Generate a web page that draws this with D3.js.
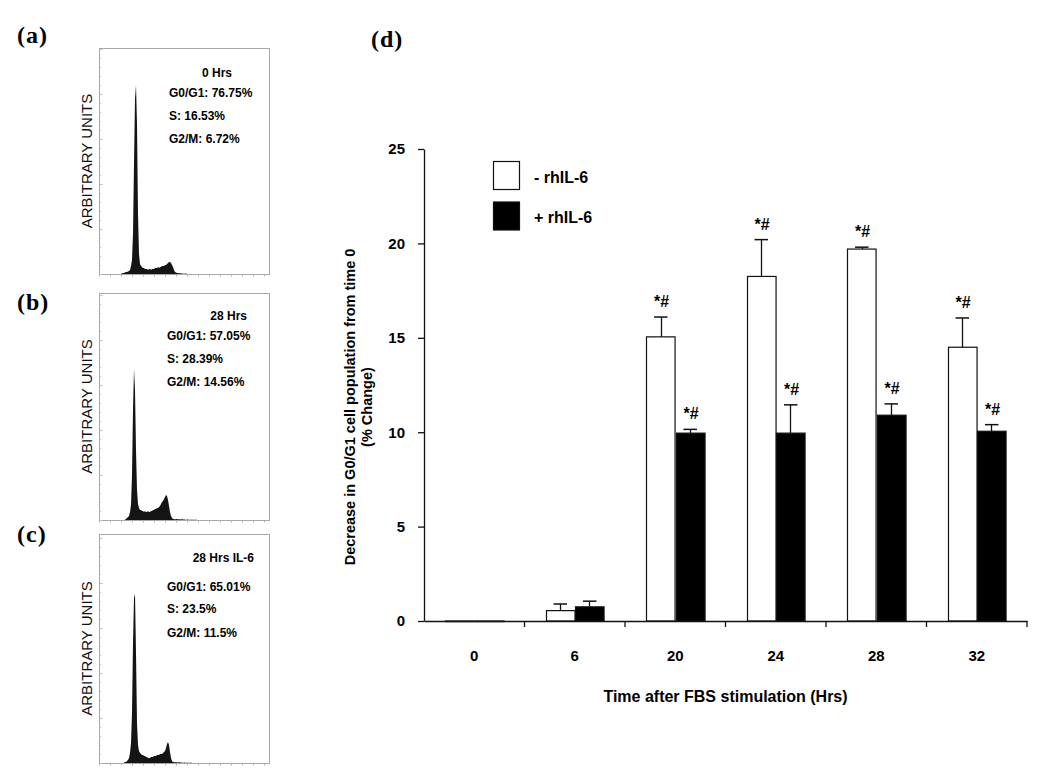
<!DOCTYPE html>
<html>
<head>
<meta charset="utf-8">
<script src="https://cdn.jsdelivr.net/npm/d3@7"></script>
<style>
  html, body { margin: 0; padding: 0; background: #fff; }
  svg { display: block; }
</style>
</head>
<body>
<svg id="chart" width="1050" height="784"></svg>
<script>
// ---------------- DATA ----------------
// Flow cytometry panels (a)-(c)
const panelLabels = ["(a)", "(b)", "(c)"];
const panelTimes = ["0 Hrs", "28 Hrs", "28 Hrs IL-6"];
const g0g1Text = ["G0/G1: 76.75%", "G0/G1: 57.05%", "G0/G1: 65.01%"];
const sText = ["S: 16.53%", "S: 28.39%", "S: 23.5%"];
const g2mText = ["G2/M: 6.72%", "G2/M: 14.56%", "G2/M: 11.5%"];
const yUnitsLabel = "ARBITRARY UNITS";

// DNA-content histograms: counts per channel, starting at the given channel
const histAStart = 22;
const histA = [0.5,0.5,1,1,1.5,2,2,2.5,3,4,8,14,40,110,175,189,150,60,20,10,8,7,6,6,5,5,5,4,5,5,4,5,5,5,6,6,6,7,6,7,7,8,8,8,9,9,10,11,12,12,11,9,7,4,2,1.5,1,1,0.5,1,0.5,0.5,0.5,0,0.5,0.5,0,0];
const histBStart = 26;
const histB = [0.5,1,2,3,4,8,15,45,110,151,130,70,30,16,12,10,10,9,9,8,9,8,8,9,8,8,9,9,10,10,11,11,12,12,13,14,16,18,19,21,23,25,24,20,14,8,4,2,1,1,0.5,1,1,0.5,1,0.5,0.5,1,0.5,0.5,0.5,0,0.5,0.5,0,0.5,0,0.5,0,0.5,0,0.5,0,0,0];
const histCStart = 25;
const histC = [0.5,1,1,2,3,5,10,20,50,120,165,169,110,40,18,12,10,9,8,8,7,7,6,6,5,5,5,6,6,6,7,7,7,8,8,8,9,9,9,10,11,12,15,19,21,18,11,5,2,1,1,0.5,1,0.5,0.5,1,0.5,0.5,0.5,0,0.5,0.5,0,0.5,0,0.5,0,0.5,0,0,0];

// Bar chart panel (d)
const panelDLabel = "(d)";
const timepoints = ["0", "6", "20", "24", "28", "32"];
const seriesNames = ["- rhIL-6", "+ rhIL-6"];
const minusIL6 = [0, 0.55, 15.05, 18.25, 19.7, 14.5];
const minusIL6Err = [0, 0.35, 1.05, 1.95, 0.1, 1.55];
const plusIL6 = [0, 0.75, 9.95, 9.95, 10.9, 10.05];
const plusIL6Err = [0, 0.3, 0.2, 1.5, 0.6, 0.35];
const minusSig = ["", "", "*#", "*#", "*#", "*#"];
const plusSig = ["", "", "*#", "*#", "*#", "*#"];
const yTicks = [0, 5, 10, 15, 20, 25];
const yTitle1 = "Decrease in G0/G1 cell population from time 0";
const yTitle2 = "(% Change)";
const xTitle = "Time after FBS stimulation (Hrs)";

// ---------------- LAYOUT ----------------
const svg = d3.select("#chart");
const SANS = "'Liberation Sans', Arial, Helvetica, sans-serif";
const SERIF = "'Liberation Serif', 'Times New Roman', Times, serif";

const histData = [
  {start: histAStart, counts: histA},
  {start: histBStart, counts: histB},
  {start: histCStart, counts: histC}
];
const boxes = [
  {x0: 99, x1: 269, y0: 48, y1: 274, labelY: 43, titleRight: 232, statX: 169, tY: 29, sY: [49, 72, 95]},
  {x0: 99, x1: 269, y0: 293, y1: 520, labelY: 310, titleRight: 247, statX: 167, tY: 27, sY: [47, 70, 93]},
  {x0: 99, x1: 269, y0: 534, y1: 763, labelY: 542, titleRight: 254, statX: 167, tY: 28, sY: [57, 79, 103]}
];

boxes.forEach((b, i) => {
  const g = svg.append("g");
  const xs = d3.scaleLinear().domain([0, 170]).range([b.x0, b.x1]);
  const ys = d3.scaleLinear().domain([0, 226]).range([b.y1, b.y1 - 226]);

  // box
  g.append("rect").attr("x", b.x0 + 0.5).attr("y", b.y0 + 0.5)
    .attr("width", b.x1 - b.x0).attr("height", b.y1 - b.y0)
    .attr("fill", "none").attr("stroke", "#a8a8a8").attr("stroke-width", 1);

  // faint minor ticks (left edge and bottom)
  const leftTicks = d3.range(0, b.y1 - b.y0, 9);
  g.selectAll(".lt").data(leftTicks).enter().append("line")
    .attr("x1", b.x0 + 0.5).attr("x2", (d, k) => b.x0 + (k % 5 === 0 ? 3.5 : 2))
    .attr("y1", d => b.y1 - d + 0.5).attr("y2", d => b.y1 - d + 0.5)
    .attr("stroke", "#c0c0c0").attr("stroke-width", 1);
  const botTicks = d3.range(0, 171, 11);
  g.selectAll(".bt").data(botTicks).enter().append("line")
    .attr("x1", d => xs(d) + 0.5).attr("x2", d => xs(d) + 0.5)
    .attr("y1", b.y1 + 0.5).attr("y2", b.y1 + 2.5)
    .attr("stroke", "#b0b0b0").attr("stroke-width", 1);

  // histogram
  const h = histData[i];
  const pts = h.counts.map((c, k) => ({ch: h.start + k, c: c}));
  const area = d3.area()
    .x(d => xs(d.ch))
    .y0(ys(0))
    .y1(d => ys(d.c))
    .curve(d3.curveLinear);
  g.append("path").datum(pts).attr("d", area).attr("fill", "#141414");

  // panel label
  g.append("text").attr("x", 17).attr("y", b.labelY)
    .style("font-family", SERIF).style("font-weight", "bold").style("font-size", "24px")
    .style("letter-spacing", "1px")
    .text(panelLabels[i]);

  // y label
  g.append("text")
    .attr("transform", `translate(92, ${(b.y0 + b.y1) / 2}) rotate(-90)`)
    .attr("text-anchor", "middle")
    .style("font-family", SANS).style("font-size", "15px").attr("fill", "#111")
    .text(yUnitsLabel);

  // texts
  g.append("text").attr("x", b.titleRight).attr("y", b.y0 + b.tY)
    .attr("text-anchor", "end")
    .style("font-family", SANS).style("font-weight", "bold").style("font-size", "12px")
    .text(panelTimes[i]);
  [g0g1Text[i], sText[i], g2mText[i]].forEach((t, k) => {
    g.append("text").attr("x", b.statX).attr("y", b.y0 + b.sY[k])
      .style("font-family", SANS).style("font-weight", "bold").style("font-size", "12px")
      .text(t);
  });
});

// ---------------- PANEL (d) ----------------
const plotLeft = 424, plotRight = 1027, plotTop = 149, plotBottom = 621;
const x = d3.scaleBand().domain(timepoints).range([plotLeft, plotRight]);
const xInner = d3.scaleBand().domain([0, 1]).range([-29, 29]).paddingInner(0.03);
const y = d3.scaleLinear().domain([0, 25]).range([plotBottom, plotTop]);

const gd = svg.append("g");

// panel label
gd.append("text").attr("x", 371).attr("y", 47)
  .style("font-family", SERIF).style("font-weight", "bold").style("font-size", "24px")
  .style("letter-spacing", "1px")
  .text(panelDLabel);

// bars
const series = [
  {vals: minusIL6, errs: minusIL6Err, sig: minusSig, fill: "#fff"},
  {vals: plusIL6, errs: plusIL6Err, sig: plusSig, fill: "#000"}
];
series.forEach((s, si) => {
  const data = timepoints.map((t, i) => ({t, v: s.vals[i], e: s.errs[i], sig: s.sig[i]}));
  const cx = d => x(d.t) + x.bandwidth() / 2 + xInner(si);
  const bw = xInner.bandwidth();
  gd.selectAll(".bar" + si).data(data).enter().append("rect")
    .attr("x", d => Math.round(cx(d)) + 0.5)
    .attr("y", d => y(d.v))
    .attr("width", bw)
    .attr("height", d => Math.max(0.6, y(0) - y(d.v)))
    .attr("fill", s.fill).attr("stroke", "#111").attr("stroke-width", 1.2);
  // error bars
  const eb = data.filter(d => d.e > 0);
  gd.selectAll(".ev" + si).data(eb).enter().append("line")
    .attr("x1", d => Math.round(cx(d) + bw / 2) + 0.5).attr("x2", d => Math.round(cx(d) + bw / 2) + 0.5)
    .attr("y1", d => y(d.v)).attr("y2", d => y(d.v + d.e))
    .attr("stroke", "#111").attr("stroke-width", 1.3);
  gd.selectAll(".ec" + si).data(eb).enter().append("line")
    .attr("x1", d => cx(d) + bw / 2 - 6.5).attr("x2", d => cx(d) + bw / 2 + 7)
    .attr("y1", d => y(d.v + d.e)).attr("y2", d => y(d.v + d.e))
    .attr("stroke", "#111").attr("stroke-width", 1.5);
  // significance labels
  gd.selectAll(".sig" + si).data(data.filter(d => d.sig)).enter().append("text")
    .attr("x", d => cx(d) + bw / 2 + 1)
    .attr("y", d => y(d.v + d.e) - 10)
    .attr("text-anchor", "middle")
    .style("font-family", SANS).style("font-weight", "bold").style("font-size", "16px")
    .text(d => d.sig);
});

// y axis
const yAxis = d3.axisLeft(y).tickValues(yTicks).tickSize(6).tickPadding(13).tickSizeOuter(0);
const yg = gd.append("g").attr("transform", `translate(${plotLeft},0)`).call(yAxis);
yg.selectAll("text").style("font-family", SANS).style("font-weight", "bold").style("font-size", "15px").attr("fill", "#000");
yg.selectAll("line, path").attr("stroke", "#111").attr("stroke-width", 1.3);

// x axis (labels at band centers, ticks at band boundaries)
const xAxis = d3.axisBottom(x).tickSize(0).tickPadding(29).tickSizeOuter(0);
const xg = gd.append("g").attr("transform", `translate(0,${plotBottom})`).call(xAxis);
xg.selectAll("text").style("font-family", SANS).style("font-weight", "bold").style("font-size", "15px").attr("fill", "#000");
xg.select("path").attr("stroke", "#111").attr("stroke-width", 1.3);
xg.selectAll(".bt").data(timepoints).enter().append("line")
  .attr("x1", d => x(d) + x.bandwidth()).attr("x2", d => x(d) + x.bandwidth())
  .attr("y1", 0).attr("y2", 6)
  .attr("stroke", "#111").attr("stroke-width", 1.3);

// axis titles
gd.append("text")
  .attr("transform", `translate(355, 407) rotate(-90)`)
  .attr("text-anchor", "middle")
  .style("font-family", SANS).style("font-weight", "bold").style("font-size", "14.5px")
  .text(yTitle1);
gd.append("text")
  .attr("transform", `translate(372, 407) rotate(-90)`)
  .attr("text-anchor", "middle")
  .style("font-family", SANS).style("font-weight", "bold").style("font-size", "14.5px")
  .text(yTitle2);
gd.append("text")
  .attr("x", (plotLeft + plotRight) / 2).attr("y", 702)
  .attr("text-anchor", "middle")
  .style("font-family", SANS).style("font-weight", "bold").style("font-size", "16px")
  .text(xTitle);

// legend
const legend = gd.append("g");
seriesNames.forEach((n, i) => {
  legend.append("rect").attr("x", 493.5).attr("y", 161.5 + i * 40.5)
    .attr("width", 26).attr("height", 28)
    .attr("fill", series[i].fill).attr("stroke", "#111").attr("stroke-width", 1.2);
  legend.append("text").attr("x", 534).attr("y", 183 + i * 40)
    .style("font-family", SANS).style("font-weight", "bold").style("font-size", "16px")
    .text(n);
});
</script>
</body>
</html>
